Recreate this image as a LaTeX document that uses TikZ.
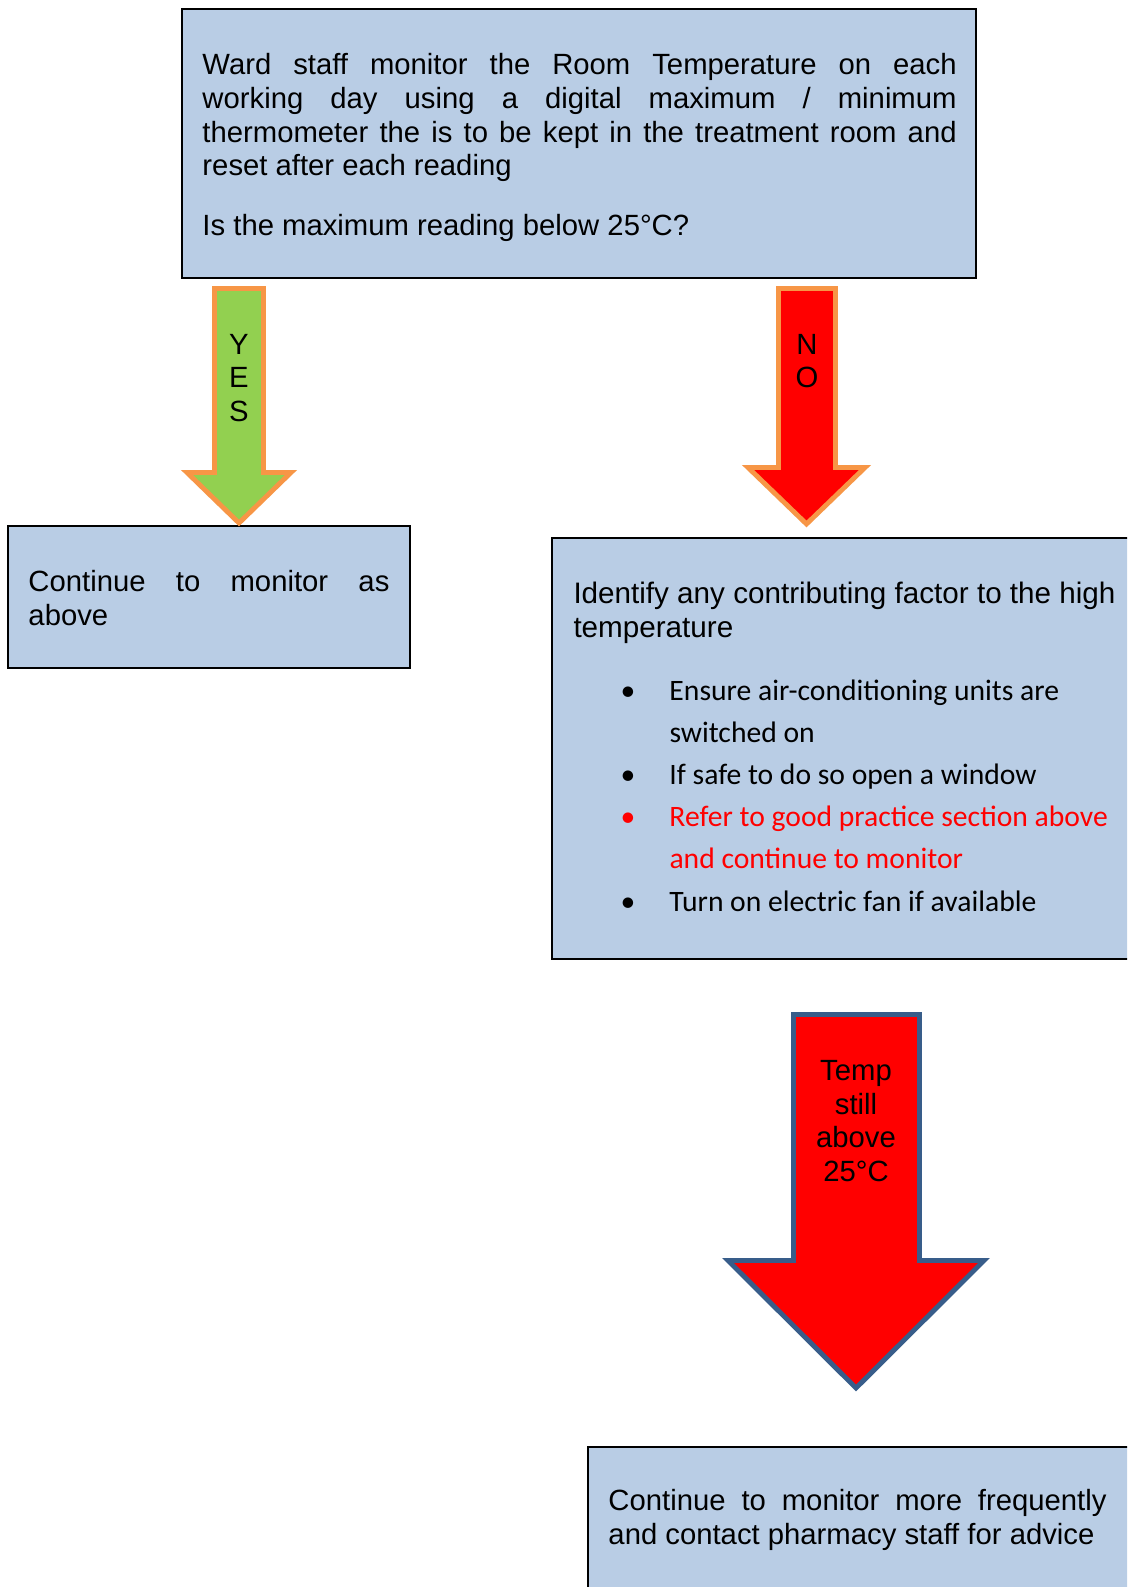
\documentclass[tikz,border=0pt]{standalone}
\usepackage{fontspec}
\setmainfont{Liberation Sans}
\newfontfamily\calibri{Carlito}
\usepackage{xcolor}
\usetikzlibrary{fit}
\definecolor{boxblue}{RGB}{185,205,229}
\definecolor{yesgreen}{RGB}{146,208,80}
\definecolor{edgeorange}{RGB}{247,150,70}
\definecolor{edgeblue}{RGB}{56,93,138}
\definecolor{nored}{RGB}{255,0,0}
\setlength{\parindent}{0pt}
\tolerance=9999
\hyphenpenalty=10000

\begin{document}
\begin{tikzpicture}[x=0.41pt, y=-0.41pt, font=\fontsize{12}{13.8}\selectfont,
  box/.style={draw=black, line width=0.8pt, fill=boxblue, inner sep=0pt},
  txt/.style={inner sep=0pt, anchor=north west, align=justify},
  arrowlab/.style={inner sep=0pt, anchor=north, align=center},
  okarrow/.style={draw=edgeorange, fill=yesgreen, line width=2pt, line join=miter},
  warnarrow/.style={draw=edgeorange, fill=nored, line width=2pt, line join=miter},
  bigarrow/.style={draw=edgeblue, fill=nored, line width=2pt, line join=miter}]
\useasboundingbox (0,0) rectangle (1127,1587);
\clip (0,0) rectangle (1127,1587);
\fill[white] (0,0) rectangle (1127,1587);
% boxes
\node[box, fit={(182,9) (976,278)}] (check) {};
\node[box, fit={(8,526) (410,668)}] (keepmon) {};
\node[box, fit={(552,538) (1140,959)}] (actions) {};
\node[box, fit={(588,1447) (1140,1600)}] (escalate) {};
\node[txt, text width=309.2pt] (checktxt) at (202,53) {Ward staff monitor the Room Temperature on each\linebreak working day using a digital maximum / minimum\linebreak thermometer the is to be kept in the treatment room and\linebreak reset after each reading\par\vspace{10.7pt}Is the maximum reading below 25°C?};
\node[txt, text width=148pt] (keeptxt) at (28,570) {Continue to monitor as\linebreak above};
\node[txt, align=left, font=\fontsize{12.15}{13.9}\selectfont] (acttxt) at (573,582) {Identify any contributing factor to the high\\temperature};
\node[txt, align=left, font=\calibri\fontsize{12.15}{17.3}\selectfont] (actlist) at (669,679) {\llap{\textbullet\hspace{14pt}}Ensure air-conditioning units are\\switched on\\\llap{\textbullet\hspace{14pt}}If safe to do so open a window\\\textcolor{nored}{\llap{\textbullet\hspace{14pt}}Refer to good practice section above}\\\textcolor{nored}{and continue to monitor}\\\llap{\textbullet\hspace{14pt}}Turn on electric fan if available};
\node[txt, text width=204.2pt] (esctxt) at (608,1489) {Continue to monitor more frequently\linebreak and contact pharmacy staff for advice};
% block arrows
\draw[okarrow] (214.5,288.5) -- (263.5,288.5) -- (263.5,472.5) -- (291,472.5) -- (239,523) -- (187,472.5) -- (214.5,472.5) -- cycle;
\draw[warnarrow] (778.5,288.5) -- (835.5,288.5) -- (835.5,467.5) -- (865,467.5) -- (806.5,524) -- (748,467.5) -- (778.5,467.5) -- cycle;
\draw[bigarrow] (793.5,1014.5) -- (919.5,1014.5) -- (919.5,1260.5) -- (984,1260.5) -- (856,1388) -- (728,1260.5) -- (793.5,1260.5) -- cycle;
\node[arrowlab] (yeslab) at (239,333.5) {Y\\E\\S};
\node[arrowlab] (nolab) at (807,333.5) {N\\O};
\node[arrowlab] (templab) at (856,1060) {Temp\\still\\above\\25°C};
\end{tikzpicture}
\end{document}
